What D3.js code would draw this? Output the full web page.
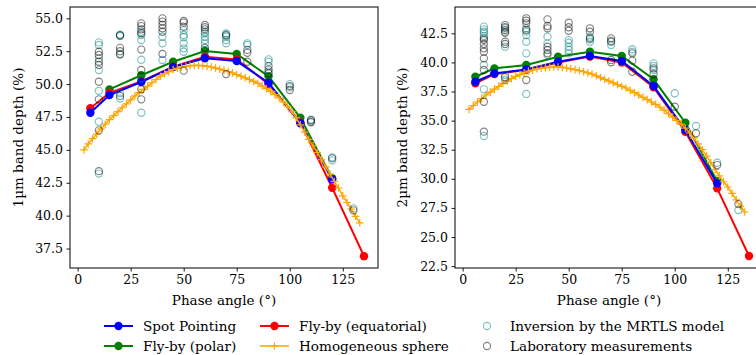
<!DOCTYPE html>
<html>
<head>
<meta charset="utf-8">
<script src="https://cdn.jsdelivr.net/npm/d3@7"></script>
<style>
  body { margin: 0; background: #fff; }
  svg text { font-family: "DejaVu Serif", serif; fill: #000; }
</style>
</head>
<body>
<svg id="chart" width="756" height="355"></svg>
<script>

// phase angles of the measurement series
var phaseSpot = [6, 15, 30, 45, 60, 75, 90, 105, 120];
var phaseEquatorial = [6, 15, 30, 45, 60, 75, 90, 105, 120, 135];
var phasePolar1um = [15, 30, 45, 60, 75, 90, 105, 120];
var phasePolar2um = [6, 15, 30, 45, 60, 75, 90, 105, 120];

// 1um band depth
var spot1um = [47.82, 49.17, 50.16, 51.30, 51.96, 51.75, 50.10, 47.02, 42.76];
var equatorial1um = [48.16, 49.34, 50.21, 51.32, 52.08, 51.88, 50.00, 47.09, 42.12, 36.92];
var polar1um = [49.60, 50.67, 51.70, 52.51, 52.29, 50.59, 47.44, 42.85];

// 2um band depth
var spot2um = [38.34, 39.06, 39.40, 40.06, 40.55, 40.12, 37.97, 34.19, 29.61];
var equatorial2um = [38.20, 39.00, 39.35, 40.00, 40.50, 40.00, 37.86, 34.05, 29.18, 23.37];
var polar2um = [38.77, 39.49, 39.78, 40.49, 40.92, 40.55, 38.55, 34.82, 29.80];

// homogeneous sphere model
var phaseSphere = [3, 5, 7, 9, 11, 13, 15, 17, 19, 21, 23, 25, 27, 29, 31, 33, 35, 37, 39, 41, 43, 45,
  47, 49, 51, 53, 55, 57, 59, 61, 63, 65, 67, 69, 71, 73, 75, 77, 79, 81, 83, 85, 87, 89,
  91, 93, 95, 97, 99, 101, 103, 105, 107, 109, 111, 113, 115, 117, 119, 121, 123, 125, 127, 129, 131, 133];
var sphere1um = [45.0, 45.45, 45.85, 46.2, 46.6, 46.95, 47.3, 47.6, 47.9, 48.2, 48.5, 48.8, 49.1, 49.35,
  49.6, 49.85, 50.1, 50.35, 50.6, 50.8, 50.95, 51.1, 51.2, 51.3, 51.35, 51.4, 51.42, 51.42, 51.4,
  51.35, 51.3, 51.22, 51.13, 51.05, 50.95, 50.85, 50.72, 50.6, 50.48, 50.35, 50.2, 50.05, 49.85,
  49.65, 49.45, 49.2, 48.95, 48.65, 48.3, 47.9, 47.45, 46.9, 46.35, 45.8, 45.3, 44.8, 44.25, 43.7,
  43.15, 42.6, 42.1, 41.5, 41.0, 40.5, 39.95, 39.45];
var sphere2um = [35.97, 36.3, 36.6, 36.9, 37.2, 37.45, 37.7, 37.95, 38.2, 38.4, 38.6, 38.8, 38.95, 39.1,
  39.25, 39.35, 39.45, 39.5, 39.55, 39.58, 39.6, 39.6, 39.58, 39.52, 39.45, 39.38, 39.3, 39.2, 39.1,
  39.0, 38.85, 38.7, 38.55, 38.4, 38.25, 38.1, 37.95, 37.8, 37.6, 37.4, 37.2, 37.0, 36.8, 36.6,
  36.4, 36.15, 35.9, 35.6, 35.3, 35.0, 34.7, 34.35, 33.95, 33.5, 33.0, 32.5, 31.95, 31.4, 30.8,
  30.25, 29.75, 29.3, 28.75, 28.2, 27.65, 27.15];

// scattered points: one list of values per phase
var phaseScatter = [10, 20, 30, 40, 50, 60, 70, 80, 90, 100, 110, 120, 130];
var inversion1um = [
  [53.17, 52.97, 51.96, 51.07, 49.49, 47.14, 43.2],
  [53.75, 53.7, 53.65, 52.3, 49.3, 48.9],
  [53.98, 53.73, 53.35, 51.85, 50.44, 47.82],
  [53.6, 53.1, 51.83],
  [54.1, 53.73, 53.56, 53.1, 52.72, 52.46],
  [53.98, 53.86, 53.6, 53.35, 53.1, 52.6],
  [53.85, 53.75, 53.6, 53.35, 53.1],
  [53.1, 52.97],
  [51.88, 51.7, 50.95],
  [50.0, 49.75],
  [47.3, 47.15],
  [44.43, 44.2],
  [40.55]];
var lab1um = [
  [52.46, 52.21, 51.70, 51.45, 50.18, 48.84, 46.48, 43.38],
  [53.7, 52.75, 52.5, 52.25, 49.1],
  [54.62, 54.41, 54.16, 53.86, 52.62, 51.07, 49.6, 48.84],
  [55.0, 54.75, 54.5, 54.24, 53.98, 52.29],
  [54.8, 54.67, 54.36, 51.02],
  [54.49, 54.32, 54.16, 52.75],
  [53.7, 50.76],
  [52.6, 52.38, 51.7],
  [51.37, 51.1, 50.82],
  [49.85, 49.55],
  [47.25, 47.1],
  [44.35],
  [40.4]];
var inversion2um = [
  [43.07, 42.84, 42.64, 42.5, 42.27, 39.78, 37.69, 33.68],
  [42.93, 42.64, 41.35, 38.92, 38.49],
  [42.93, 42.64, 42.35, 41.78, 40.78, 37.29],
  [42.21, 41.64, 40.64],
  [41.92, 41.69, 41.35, 41.07, 40.78],
  [42.21, 41.98, 41.78],
  [41.86, 41.5],
  [41.13, 40.92],
  [39.92, 39.69, 39.35],
  [37.35],
  [34.54],
  [31.38],
  [27.32]];
var lab2um = [
  [42.07, 41.92, 41.58, 41.21, 40.92, 40.35, 39.35, 36.62, 34.05],
  [43.21, 43.02, 42.78, 42.55, 41.78, 41.58, 38.72],
  [43.79, 43.58, 43.36, 42.78, 38.49],
  [43.7, 43.13, 42.93, 41.35, 41.07, 40.78],
  [43.41, 43.02, 42.72],
  [42.93, 42.64, 42.07],
  [42.07, 41.78, 40.21, 40.01],
  [40.78, 40.15, 39.2],
  [39.49, 39.0],
  [36.19],
  [33.91],
  [31.18],
  [27.83]];

var xTicks = [0, 25, 50, 75, 100, 125];
var yTicks1um = [37.5, 40.0, 42.5, 45.0, 47.5, 50.0, 52.5, 55.0];
var yTicks2um = [22.5, 25.0, 27.5, 30.0, 32.5, 35.0, 37.5, 40.0, 42.5];

var legendNames = ["Spot Pointing", "Fly-by (polar)", "Fly-by (equatorial)", "Homogeneous sphere",
  "Inversion by the MRTLS model", "Laboratory measurements"];

var colors = {spot: "#0000ff", polar: "#008000", equatorial: "#ff0000", sphere: "#ffa500",
  inversion: "rgba(0,128,128,0.5)", lab: "rgba(0,0,0,0.5)"};

var svg = d3.select("#chart");

function zip(xs, ys) {
  return xs.map(function(x, i) { return {x: x, y: ys[i]}; });
}

function flatten(phases, groups) {
  var out = [];
  phases.forEach(function(p, i) {
    groups[i].forEach(function(v) { out.push({x: p, y: v}); });
  });
  return out;
}

function drawPanel(opt) {
  var top = 7, bottom = 268, left = opt.left, width = 308;

  var xScale = d3.scaleLinear().domain([-3.6, 141.6]).range([left, left + width]);
  var yScale = d3.scaleLinear().domain(opt.yDomain).range([bottom, top]);

  var g = svg.append("g");

  // axes
  g.append("g")
    .attr("transform", "translate(0," + bottom + ")")
    .call(d3.axisBottom(xScale).tickValues(xTicks).tickSize(3.5).tickPadding(3.5).tickFormat(d3.format("d")))
    .call(function(a) { a.select(".domain").remove(); })
    .selectAll("text").style("font-size", "12.5px").attr("font-family", null);

  g.append("g")
    .attr("transform", "translate(" + left + ",0)")
    .call(d3.axisLeft(yScale).tickValues(opt.yTicks).tickSize(3.5).tickPadding(3.5).tickFormat(d3.format(".1f")))
    .call(function(a) { a.select(".domain").remove(); })
    .selectAll("text").style("font-size", "12.5px").attr("font-family", null);

  g.selectAll(".tick line").attr("stroke", "#000").attr("stroke-width", 0.9);

  var plot = g.append("g");

  var line = d3.line()
    .x(function(d) { return xScale(d.x); })
    .y(function(d) { return yScale(d.y); });

  function series(data, color) {
    plot.append("path").datum(data)
      .attr("d", line).attr("fill", "none")
      .attr("stroke", color).attr("stroke-width", 2);
    plot.selectAll(null).data(data).enter().append("circle")
      .attr("cx", function(d) { return xScale(d.x); })
      .attr("cy", function(d) { return yScale(d.y); })
      .attr("r", 4.2).attr("fill", color);
  }

  series(opt.polar, colors.polar);
  series(opt.equatorial, colors.equatorial);
  series(opt.spot, colors.spot);

  // sphere model with + markers
  plot.append("path").datum(opt.sphere)
    .attr("d", line).attr("fill", "none")
    .attr("stroke", colors.sphere).attr("stroke-width", 1.5);
  plot.selectAll(null).data(opt.sphere).enter().append("path")
    .attr("d", function(d) {
      var cx = xScale(d.x), cy = yScale(d.y), s = 3.8;
      return "M" + (cx - s) + "," + cy + "H" + (cx + s) + "M" + cx + "," + (cy - s) + "V" + (cy + s);
    })
    .attr("stroke", colors.sphere).attr("stroke-width", 1.2);

  function hollow(data, color) {
    plot.selectAll(null).data(data).enter().append("circle")
      .attr("cx", function(d) { return xScale(d.x); })
      .attr("cy", function(d) { return yScale(d.y); })
      .attr("r", 3.6).attr("fill", "none")
      .attr("stroke", color).attr("stroke-width", 1.1);
  }
  hollow(opt.inversion, colors.inversion);
  hollow(opt.lab, colors.lab);

  // frame
  g.append("rect")
    .attr("x", left).attr("y", top).attr("width", width).attr("height", bottom - top)
    .attr("fill", "none").attr("stroke", "#000").attr("stroke-width", 1);

  g.append("text")
    .attr("x", left + width / 2).attr("y", 305)
    .attr("text-anchor", "middle").style("font-size", "13.5px")
    .text("Phase angle (°)");

  g.append("text")
    .attr("transform", "translate(" + opt.labelX + "," + ((top + bottom) / 2) + ") rotate(-90)")
    .attr("text-anchor", "middle").style("font-size", "13.5px")
    .text(opt.label);
}

drawPanel({
  left: 70, yDomain: [36.02, 55.86], yTicks: yTicks1um, labelX: 23,
  label: "1µm band depth (%)",
  spot: zip(phaseSpot, spot1um),
  equatorial: zip(phaseEquatorial, equatorial1um),
  polar: zip(phasePolar1um, polar1um),
  sphere: zip(phaseSphere, sphere1um),
  inversion: flatten(phaseScatter, inversion1um),
  lab: flatten(phaseScatter, lab1um)
});

drawPanel({
  left: 455, yDomain: [22.34, 44.76], yTicks: yTicks2um, labelX: 407,
  label: "2µm band depth (%)",
  spot: zip(phaseSpot, spot2um),
  equatorial: zip(phaseEquatorial, equatorial2um),
  polar: zip(phasePolar2um, polar2um),
  sphere: zip(phaseSphere, sphere2um),
  inversion: flatten(phaseScatter, inversion2um),
  lab: flatten(phaseScatter, lab2um)
});

// legend, 3 columns x 2 rows
var legendItems = [
  {name: legendNames[0], color: colors.spot, kind: "dot", col: 0, row: 0},
  {name: legendNames[1], color: colors.polar, kind: "dot", col: 0, row: 1},
  {name: legendNames[2], color: colors.equatorial, kind: "dot", col: 1, row: 0},
  {name: legendNames[3], color: colors.sphere, kind: "plus", col: 1, row: 1},
  {name: legendNames[4], color: colors.inversion, kind: "ring", col: 2, row: 0},
  {name: legendNames[5], color: colors.lab, kind: "ring", col: 2, row: 1}
];
var colX = [104, 260, 473];
var rowY = [326, 346];

var legend = svg.append("g");
legendItems.forEach(function(d) {
  var x = colX[d.col], y = rowY[d.row];
  var item = legend.append("g");
  if (d.kind == "ring") {
    item.append("circle").attr("cx", x + 14).attr("cy", y).attr("r", 3.6)
      .attr("fill", "none").attr("stroke", d.color).attr("stroke-width", 1.1);
  } else {
    item.append("line").attr("x1", x).attr("x2", x + 29).attr("y1", y).attr("y2", y)
      .attr("stroke", d.color).attr("stroke-width", d.kind == "dot" ? 2 : 1.5);
    if (d.kind == "dot") {
      item.append("circle").attr("cx", x + 14.5).attr("cy", y).attr("r", 4.2).attr("fill", d.color);
    } else {
      item.append("path")
        .attr("d", "M" + (x + 10.7) + "," + y + "H" + (x + 18.3) + "M" + (x + 14.5) + "," + (y - 3.8) + "V" + (y + 3.8))
        .attr("stroke", d.color).attr("stroke-width", 1.2);
    }
  }
  item.append("text").attr("x", x + (d.kind == "ring" ? 37 : 39)).attr("y", y + 4.5)
    .style("font-size", "13.6px").text(d.name);
});

</script>
</body>
</html>
